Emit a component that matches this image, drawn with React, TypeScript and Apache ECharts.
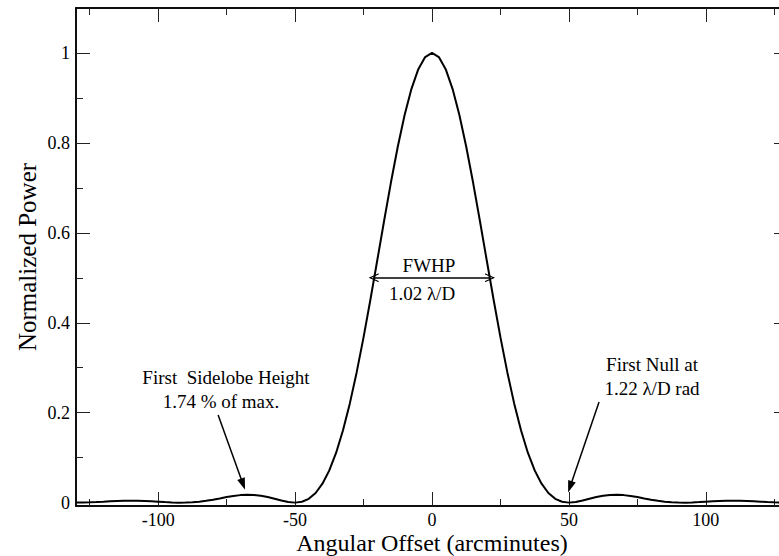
import React, { useEffect, useRef } from "react";
import * as echarts from "echarts";

// Angular offset (arcminutes) and normalized power
const offsets = [
  -130, -127.5, -125, -122.5, -120, -117.5, -115, -112.5, -110, -107.5, -105, -102.5,
  -100, -97.5, -95, -92.5, -90, -87.5, -85, -82.5, -80, -77.5, -75, -72.5, -70, -67.5,
  -65, -62.5, -60, -57.5, -55, -52.5, -50, -47.5, -45, -42.5, -40, -37.5, -35, -32.5,
  -30, -27.5, -25, -22.5, -20, -17.5, -15, -12.5, -10, -7.5, -5, -2.5, 0, 2.5, 5, 7.5,
  10, 12.5, 15, 17.5, 20, 22.5, 25, 27.5, 30, 32.5, 35, 37.5, 40, 42.5, 45, 47.5, 50,
  52.5, 55, 57.5, 60, 62.5, 65, 67.5, 70, 72.5, 75, 77.5, 80, 82.5, 85, 87.5, 90, 92.5,
  95, 97.5, 100, 102.5, 105, 107.5, 110, 112.5, 115, 117.5, 120, 122.5, 125, 127.5, 130,
];
const power = [
  0.0001, 0.0004, 0.0009, 0.0015, 0.0022, 0.003, 0.0036, 0.004, 0.0042, 0.004, 0.0036, 0.0029,
  0.0021, 0.0012, 0.0005, 0.0, 0.0001, 0.0008, 0.0021, 0.004, 0.0066, 0.0094, 0.0123, 0.0148, 0.0167, 0.0175,
  0.0171, 0.0153, 0.0124, 0.0086, 0.0047, 0.0014, 0.0, 0.0019, 0.0085, 0.0214, 0.0421, 0.0717, 0.1111, 0.1608,
  0.2207, 0.2901, 0.3675, 0.4511, 0.5384, 0.6263, 0.7118, 0.7914, 0.8619, 0.9202, 0.9639, 0.9909, 1.0, 0.9909, 0.9639, 0.9202,
  0.8619, 0.7914, 0.7118, 0.6263, 0.5384, 0.4511, 0.3675, 0.2901, 0.2207, 0.1608, 0.1111, 0.0717, 0.0421, 0.0214, 0.0085, 0.0019, 0.0,
  0.0014, 0.0047, 0.0086, 0.0124, 0.0153, 0.0171, 0.0175, 0.0167, 0.0148, 0.0123, 0.0094, 0.0066, 0.004, 0.0021, 0.0008, 0.0001, 0.0,
  0.0005, 0.0012, 0.0021, 0.0029, 0.0036, 0.004, 0.0042, 0.004, 0.0036, 0.003, 0.0022, 0.0015, 0.0009, 0.0004, 0.0001,
];

const xMajorTicks = [-100, -50, 0, 50, 100];
const xMinorTicks = [-125, -75, -25, 25, 75, 125];
const yMajorTicks = [0, 0.2, 0.4, 0.6, 0.8, 1];
const yMinorTicks = [0.1, 0.3, 0.5, 0.7, 0.9];
const xTitle = "Angular Offset (arcminutes)";
const yTitle = "Normalized Power";

// Annotation texts
const fwhpLines = ["FWHP", "1.02 λ/D"];
const sidelobeLines = ["First  Sidelobe Height", "1.74 % of max."];
const nullLines = ["First Null at", "1.22 λ/D rad"];

const FONT = "'Liberation Serif', 'Times New Roman', 'DejaVu Serif', serif";

export default function App() {
  const ref = useRef<HTMLDivElement>(null);

  useEffect(() => {
    document.body.style.margin = "0";
    document.body.style.overflow = "hidden";
    const chart = echarts.init(ref.current!, null, { renderer: "svg" });

    const X_MIN = -130, X_MAX = 130, Y_MIN = -0.0075, Y_MAX = 1.1;
    const axisLine = { show: true, onZero: false, lineStyle: { color: "#000", width: 1.5 } };

    const mkX = (pos: string, ticks: number[], len: number, labels: boolean, name?: string) => ({
      type: "value",
      gridIndex: 0,
      position: pos,
      min: X_MIN,
      max: X_MAX,
      axisLine,
      splitLine: { show: false },
      axisTick: { show: true, inside: true, length: len, customValues: ticks, lineStyle: { color: "#222", width: 1 } },
      axisLabel: labels
        ? { show: true, customValues: ticks, color: "#000", fontSize: 18, fontFamily: FONT, margin: 5 }
        : { show: false },
      name: name || "",
      nameLocation: "middle",
      nameGap: 25,
      nameMoveOverlap: false,
      nameTextStyle: { color: "#000", fontSize: 24, fontFamily: FONT },
    });

    const mkY = (pos: string, ticks: number[], len: number, labels: boolean, name?: string) => ({
      type: "value",
      gridIndex: 0,
      position: pos,
      min: Y_MIN,
      max: Y_MAX,
      axisLine,
      splitLine: { show: false },
      axisTick: { show: true, inside: true, length: len, customValues: ticks, lineStyle: { color: "#222", width: 1 } },
      axisLabel: labels
        ? { show: true, customValues: ticks, color: "#000", fontSize: 18, fontFamily: FONT, margin: 6 }
        : { show: false },
      name: name || "",
      nameLocation: "middle",
      nameRotate: 90,
      nameGap: 36,
      nameMoveOverlap: false,
      nameTextStyle: { color: "#000", fontSize: 25, fontFamily: FONT },
    });

    const seriesData = offsets.map((x, i) => [x, power[i]]);

    const arrowHead = "triangle";
    const chevron = "path://M0,10 L5,0 L10,10 L8.6,10 L5,2.8 L1.4,10 Z";

    const textEl = (text: string, x: number, y: number) => ({
      type: "text",
      x,
      y,
      silent: true,
      style: {
        text,
        fill: "#000",
        fontSize: 19,
        fontFamily: FONT,
        align: "center",
        verticalAlign: "middle",
      },
    });

    chart.setOption({
      animation: false,
      backgroundColor: "#fff",
      grid: { left: 76, top: 8, width: 712, height: 498, containLabel: false, outerBoundsMode: "none" },
      xAxis: [
        mkX("bottom", xMajorTicks, 14, true, xTitle),
        mkX("bottom", xMinorTicks, 7, false),
        mkX("top", xMajorTicks, 14, false),
        mkX("top", xMinorTicks, 7, false),
      ],
      yAxis: [
        mkY("left", yMajorTicks, 14, true, yTitle),
        mkY("left", yMinorTicks, 7, false),
        mkY("right", yMajorTicks, 14, false),
        mkY("right", yMinorTicks, 7, false),
      ],
      series: [
        {
          type: "line",
          xAxisIndex: 0,
          yAxisIndex: 0,
          data: seriesData,
          showSymbol: false,
          symbol: "none",
          clip: true,
          lineStyle: { color: "#000", width: 2 },
          markLine: {
            silent: true,
            animation: false,
            label: { show: false },
            emphasis: { disabled: true },
            lineStyle: { color: "#000", width: 1.5, type: "solid" },
            data: [
              [
                { coord: [-21.3, 0.5], symbol: chevron, symbolSize: [9, 10] },
                { coord: [21.2, 0.5], symbol: chevron, symbolSize: [9, 10] },
              ],
              [
                { coord: [-78.1, 0.195], symbol: "none" },
                { coord: [-69.0, 0.041], symbol: arrowHead, symbolSize: [8, 12] },
              ],
              [
                { coord: [61.0, 0.224], symbol: "none" },
                { coord: [50.4, 0.035], symbol: arrowHead, symbolSize: [8, 12] },
              ],
            ],
          },
        },
      ],
      graphic: [
        textEl(fwhpLines[0], 429, 265),
        textEl(fwhpLines[1], 422, 293),
        textEl(sidelobeLines[0], 226, 377),
        textEl(sidelobeLines[1], 221, 401),
        textEl(nullLines[0], 652, 364),
        textEl(nullLines[1], 652, 388),
      ],
    });

    return () => chart.dispose();
  }, []);

  return <div ref={ref} style={{ width: 792, height: 556, background: "#fff" }} />;
}
